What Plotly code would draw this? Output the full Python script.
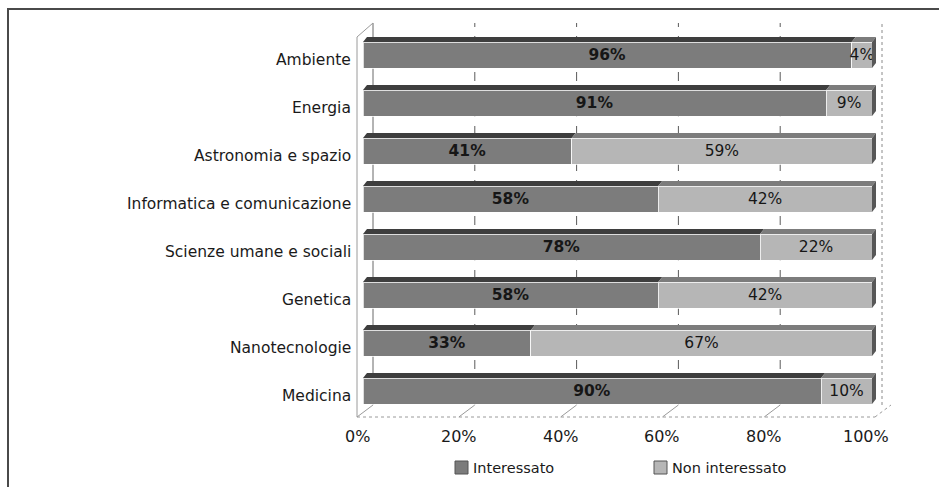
import plotly.graph_objects as go

# Survey topics, listed bottom to top
categories = [
    "Medicina",
    "Nanotecnologie",
    "Genetica",
    "Scienze umane e sociali",
    "Informatica e comunicazione",
    "Astronomia e spazio",
    "Energia",
    "Ambiente",
]
interessato = [90, 33, 58, 78, 58, 41, 91, 96]
non_interessato = [10, 67, 42, 22, 42, 59, 9, 4]
series_names = ["Interessato", "Non interessato"]
tick_values = [0, 20, 40, 60, 80, 100]
tick_labels = ["0%", "20%", "40%", "60%", "80%", "100%"]

W, H = 939, 487
FONT = "DejaVu Sans"

# pixel <-> data mapping (plot area covers the whole page)
PX0, PXS = 363.0, 5.09          # x pixel of 0 %, pixels per %
PY0, PYS = 391.0, 48.0          # y pixel of first category, pixels per category


def dx(px):
    return (px - PX0) / PXS


def dy(py):
    return (PY0 - py) / PYS


face = ["#7c7c7c", "#b6b6b6"]
top = ["#3e3e3e", "#7c7c7c"]
side = ["#4a4a4a", "#575757"]

idx = list(range(len(categories)))
BW = 26 / PYS
DEP_X = 4 / PXS
DEP_Y = 5 / PYS

fig = go.Figure()
for k, (name, vals) in enumerate(zip(series_names, [interessato, non_interessato])):
    tmpl = "<b>%{x}%</b>" if k == 0 else "%{x}%"
    fig.add_trace(go.Bar(
        y=idx, x=vals, orientation="h", name=name, width=BW,
        marker=dict(color=face[k], line=dict(color="rgba(255,255,255,0.75)", width=1)),
        texttemplate=tmpl, textposition="inside", insidetextanchor="middle",
        textangle=0, textfont=dict(family=FONT, size=15.5, color="#161616"),
        showlegend=False, hoverinfo="skip",
    ))

shapes = []
grid_col = "#9a9a9a"
BACK = (373 - 363) / PXS
FRONT = (357 - 363) / PXS

# back-wall gridlines
for v in tick_values:
    xb = v + BACK
    style = dict(color=grid_col, width=1, dash="solid")
    if 0 < v < 100:
        style = dict(color="#5a5a5a", width=1, dash="dash")
    elif v == 100:
        style = dict(color="#8a8a8a", width=1, dash="dot")
    shapes.append(dict(type="line", xref="x", yref="y", x0=xb, x1=xb,
                       y0=dy(405), y1=dy(23), line=style, layer="below"))

# floor edges
for v in tick_values[1:-1]:
    shapes.append(dict(type="line", xref="x", yref="y", x0=v + FRONT, x1=v + BACK,
                       y0=dy(417), y1=dy(405), line=dict(color=grid_col, width=1), layer="below"))
shapes.append(dict(type="line", xref="x", yref="y", x0=dx(357), x1=100 + (366 - 363) / PXS,
                   y0=dy(417), y1=dy(417), line=dict(color=grid_col, width=1, dash="dot"), layer="below"))
shapes.append(dict(type="line", xref="x", yref="y", x0=100 + (366 - 363) / PXS, x1=100 + (382 - 363) / PXS,
                   y0=dy(417), y1=dy(405), line=dict(color=grid_col, width=1, dash="dot"), layer="below"))

# left wall outline
shapes.append(dict(type="path", xref="x", yref="y",
                   path=f"M{dx(357)},{dy(417)} L{dx(357)},{dy(37)} L{dx(373)},{dy(23)} "
                        f"L{dx(373)},{dy(405)} Z",
                   line=dict(color=grid_col, width=1), layer="below"))

# bar tops and end caps
for i in idx:
    yt = i + BW / 2
    yb = i - BW / 2
    x0 = 0
    for k, vals in enumerate([interessato, non_interessato]):
        x1 = x0 + vals[i]
        shapes.append(dict(type="path", xref="x", yref="y",
                           path=f"M{x0},{yt} L{x1},{yt} L{x1 + DEP_X},{yt + DEP_Y} L{x0 + DEP_X},{yt + DEP_Y} Z",
                           fillcolor=top[k], line=dict(width=0), layer="above"))
        x0 = x1
    shapes.append(dict(type="path", xref="x", yref="y",
                       path=f"M{x0},{yb} L{x0},{yt} L{x0 + DEP_X},{yt + DEP_Y} L{x0 + DEP_X},{yb + DEP_Y} Z",
                       fillcolor=side[1], line=dict(width=0), layer="above"))

# outer frame
shapes.append(dict(type="path", xref="paper", yref="paper",
                   path=f"M{8 / W},0 L{8 / W},{1 - 9 / H} L1,{1 - 9 / H}",
                   line=dict(color="#4a4a4a", width=2)))

annotations = []
for i, c in enumerate(categories):
    annotations.append(dict(x=dx(353), y=i - 0.1, xref="x", yref="y", text=c, showarrow=False,
                            xanchor="right", yanchor="middle",
                            font=dict(family=FONT, size=15.5, color="#1a1a1a")))
for v, t in zip(tick_values, tick_labels):
    annotations.append(dict(x=v + FRONT, y=dy(436), xref="x", yref="y", text=t,
                            showarrow=False, xanchor="center", yanchor="middle",
                            font=dict(family=FONT, size=16, color="#1a1a1a")))

# legend
legend_x = [455, 654]
for k, name in enumerate(series_names):
    lx = legend_x[k]
    shapes.append(dict(type="rect", xref="x", yref="y", x0=dx(lx), x1=dx(lx + 13),
                       y0=dy(474), y1=dy(461), fillcolor=face[k],
                       line=dict(color="#555555", width=1)))
    annotations.append(dict(x=dx(lx + 16), y=dy(467.5), xref="x", yref="y", text=name,
                            showarrow=False, xanchor="left", yanchor="middle",
                            font=dict(family=FONT, size=14.5, color="#1a1a1a")))

fig.update_layout(
    width=W, height=H, barmode="stack",
    margin=dict(l=0, r=0, t=0, b=0, autoexpand=False),
    paper_bgcolor="white", plot_bgcolor="white",
    xaxis=dict(range=[dx(0), dx(W)], visible=False, fixedrange=True),
    yaxis=dict(range=[dy(H), dy(0)], visible=False, fixedrange=True),
    uniformtext=dict(minsize=15.5, mode="show"),
    shapes=shapes, annotations=annotations, showlegend=False,
)

fig.write_html("out.html")
